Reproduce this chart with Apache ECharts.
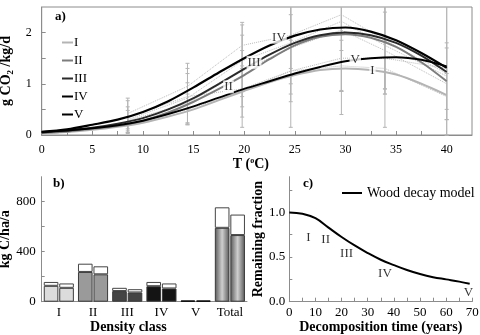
<!DOCTYPE html>
<html>
<head>
<meta charset="utf-8">
<script src="https://cdn.jsdelivr.net/npm/echarts@6/dist/echarts.min.js"></script>
<style>
  html, body { margin: 0; padding: 0; background: #fff; }
  #chart { width: 480px; height: 335px; }
</style>
</head>
<body>
<div id="chart"></div>
<script>
// ---- panel a: CO2 efflux vs temperature ----
const classNames = ['I', 'II', 'III', 'IV', 'V'];
const curveT = [0, 2.5, 5, 7.5, 10, 12.5, 15, 17.5, 20, 22.5, 25, 27.5, 30, 32.5, 35, 37.5, 40];
const curveI   = [0.04, 0.06, 0.10, 0.16, 0.24, 0.36, 0.50, 0.68, 0.86, 1.03, 1.17, 1.27, 1.30, 1.27, 1.18, 1.00, 0.78];
const curveII  = [0.04, 0.07, 0.12, 0.18, 0.28, 0.44, 0.65, 0.90, 1.17, 1.48, 1.75, 1.92, 1.97, 1.90, 1.72, 1.42, 1.05];
const curveIII = [0.05, 0.09, 0.14, 0.22, 0.33, 0.50, 0.72, 1.00, 1.29, 1.57, 1.80, 1.95, 2.00, 1.95, 1.80, 1.55, 1.23];
const curveIV  = [0.06, 0.11, 0.20, 0.30, 0.45, 0.66, 0.93, 1.22, 1.50, 1.75, 1.94, 2.06, 2.10, 2.02, 1.85, 1.60, 1.31];
const curveV   = [0.06, 0.09, 0.13, 0.19, 0.28, 0.41, 0.56, 0.73, 0.90, 1.05, 1.20, 1.33, 1.44, 1.50, 1.52, 1.47, 1.34];

// measured means and standard deviations at the incubation temperatures
const obsT = [8.5, 14.4, 19.8, 24.6, 29.6, 33.9, 40.0];
const obsI   = [0.20, 0.50, 0.85, 1.25, 1.35, 1.30, 0.75];
const obsII  = [0.28, 0.62, 1.25, 1.70, 2.05, 1.65, 1.00];
const obsIII = [0.30, 0.72, 1.45, 1.80, 2.22, 1.75, 1.15];
const obsIV  = [0.42, 0.95, 1.75, 1.95, 2.35, 1.85, 1.20];
const obsV   = [0.35, 0.75, 0.90, 1.25, 1.50, 1.50, 1.30];
const sdI   = [0.15, 0.30, 0.50, 0.60, 0.50, 0.50, 0.45];
const sdII  = [0.20, 0.40, 0.70, 0.90, 1.20, 0.75, 0.70];
const sdIII = [0.25, 0.48, 0.70, 0.80, 1.35, 0.85, 0.65];
const sdIV  = [0.30, 0.45, 0.45, 0.65, 0.70, 1.05, 1.40];
const sdV   = [0.32, 0.55, 0.75, 1.10, 1.10, 1.35, 1.30];

// curve name tags: [T, value, text]
const curveTags = [
  [18.45, 0.94, 'II'], [20.97, 1.42, 'III'], [23.43, 1.91, 'IV'],
  [30.97, 1.47, 'V'], [32.67, 1.25, 'I']
];

// ---- panel b: carbon release per density class ----
const densityClasses = ['I', 'II', 'III', 'IV', 'V', 'Total'];
const lowerA = [127, 238, 85, 124, 10, 591];
const upperA = [158, 304, 111, 158, 10, 755];
const lowerB = [111, 219, 74, 106, 10, 533];
const upperB = [146, 283, 100, 146, 10, 697];

// ---- panel c: wood decay model ----
const decayT = [0, 5, 10, 15, 20, 25, 30, 35, 40, 45, 50, 55, 60, 65, 69];
const decayF = [1.0, 0.985, 0.935, 0.83, 0.725, 0.63, 0.545, 0.47, 0.41, 0.355, 0.31, 0.275, 0.25, 0.225, 0.2];
const decayTags = [
  [7.3, 0.72, 'I'], [13.9, 0.70, 'II'], [21.9, 0.54, 'III'],
  [36.6, 0.32, 'IV'], [68.5, 0.10, 'V']
];

const serif = 'Liberation Serif';
const axisGray = '#8c8c8c';
const curveColors = ['#b4b4b4', '#7d7d7d', '#2a2a2a', '#000000', '#000000'];
const curveWidths = [2, 2, 2, 2.2, 2];
const yMaxA = 2.5;

const curves = [curveI, curveII, curveIII, curveIV, curveV];
const obs = [obsI, obsII, obsIII, obsIV, obsV];
const sds = [sdI, sdII, sdIII, sdIV, sdV];

function zip(xs, ys) { return xs.map((x, i) => [x, ys[i]]); }

const series = [];

// error bars (drawn first, beneath everything)
obs.forEach((m, k) => {
  series.push({
    type: 'custom', xAxisIndex: 0, yAxisIndex: 0, z: 1, silent: true,
    data: obsT.map((t, i) => [t, m[i] - sds[k][i], m[i] + sds[k][i]]),
    renderItem: function (params, api) {
      const x = api.value(0);
      const lo = Math.max(api.value(1), 0);
      const hi = Math.min(api.value(2), yMaxA);
      const p1 = api.coord([x, hi]);
      const p2 = api.coord([x, lo]);
      const w = 2;
      const st = { stroke: '#b5b5b5', lineWidth: 1 };
      const kids = [
        { type: 'line', shape: { x1: p1[0], y1: p1[1], x2: p2[0], y2: p2[1] }, style: st },
        { type: 'line', shape: { x1: p2[0] - w, y1: p2[1], x2: p2[0] + w, y2: p2[1] }, style: st }
      ];
      if (api.value(2) <= yMaxA) {
        kids.push({ type: 'line', shape: { x1: p1[0] - w, y1: p1[1], x2: p1[0] + w, y2: p1[1] }, style: st });
      }
      return { type: 'group', children: kids };
    }
  });
});

// dotted lines joining the measured means
obs.forEach((m, k) => {
  series.push({
    type: 'line', name: 'obs' + k, xAxisIndex: 0, yAxisIndex: 0, z: 2, silent: true,
    data: zip(obsT, m), symbol: 'none',
    lineStyle: { color: '#bcbcbc', width: 1, type: 'dotted' }
  });
});

// fitted temperature response curves
curves.forEach((c, k) => {
  series.push({
    type: 'line', name: classNames[k], xAxisIndex: 0, yAxisIndex: 0, z: 3 + k,
    data: zip(curveT, c), smooth: 0.3, symbol: 'none',
    lineStyle: { color: curveColors[k], width: curveWidths[k] },
    itemStyle: { color: curveColors[k] }
  });
});

series.push({
  type: 'scatter', xAxisIndex: 0, yAxisIndex: 0, z: 10, silent: true,
  symbolSize: 0, data: curveTags,
  label: {
    show: true, position: 'inside', formatter: p => p.value[2],
    fontFamily: serif, fontSize: 13, color: '#000',
    backgroundColor: '#fff', padding: [0, 1]
  }
});

// panel b stacked bars
const classColors = ['#dcdcdc', '#9a9a9a', '#444444', '#141414', '#000000'];
const totalFill = {
  type: 'linear', x: 0, y: 0, x2: 1, y2: 0,
  colorStops: [
    { offset: 0, color: '#575757' },
    { offset: 0.5, color: '#cfcfcf' },
    { offset: 1, color: '#575757' }
  ]
};
function lowerItems(vals) {
  return vals.map((v, i) => ({
    value: v,
    itemStyle: { color: i < 5 ? classColors[i] : totalFill, borderColor: i === 4 ? '#000' : '#3a3a3a', borderWidth: 1 }
  }));
}
function upperItems(lo, up) {
  return up.map((v, i) => ({
    value: v - lo[i],
    itemStyle: { color: '#fff', borderColor: '#444', borderWidth: v - lo[i] > 0 ? 1 : 0 }
  }));
}
series.push(
  { type: 'bar', xAxisIndex: 1, yAxisIndex: 1, stack: 'a', data: lowerItems(lowerA), barGap: '6%', barCategoryGap: '12%' },
  { type: 'bar', xAxisIndex: 1, yAxisIndex: 1, stack: 'a', data: upperItems(lowerA, upperA) },
  { type: 'bar', xAxisIndex: 1, yAxisIndex: 1, stack: 'b', data: lowerItems(lowerB) },
  { type: 'bar', xAxisIndex: 1, yAxisIndex: 1, stack: 'b', data: upperItems(lowerB, upperB) }
);

// panel c decay curve
series.push({
  type: 'line', name: 'Wood decay model', xAxisIndex: 2, yAxisIndex: 2,
  data: zip(decayT, decayF), smooth: 0.4, symbol: 'none',
  lineStyle: { color: '#000', width: 2 }, itemStyle: { color: '#000' }
});
series.push({
  type: 'scatter', xAxisIndex: 2, yAxisIndex: 2, silent: true,
  symbolSize: 0, data: decayTags,
  label: {
    show: true, position: 'inside', formatter: p => p.value[2],
    fontFamily: serif, fontSize: 13, color: '#000'
  }
});

const labelStyle = { fontFamily: serif, fontSize: 13, color: '#000' };
const nameStyle = { fontFamily: serif, fontSize: 14, fontWeight: 'bold', color: '#000' };
const lineAx = { lineStyle: { color: axisGray, width: 1 } };
const tickIn = { inside: true, length: 4, lineStyle: { color: axisGray } };

const chart = echarts.init(document.getElementById('chart'), null, { renderer: 'canvas' });
chart.setOption({
  animation: false,
  backgroundColor: '#fff',
  grid: [
    { left: 41.7, top: 7, width: 430.3, height: 128, outerBoundsMode: 'none', containLabel: false, show: true, borderColor: axisGray, borderWidth: 1, backgroundColor: 'transparent' },
    { left: 41.7, top: 176.7, width: 205.3, height: 125, outerBoundsMode: 'none', containLabel: false },
    { left: 289.3, top: 176.7, width: 183, height: 125, outerBoundsMode: 'none', containLabel: false }
  ],
  legend: [
    {
      data: classNames, orient: 'vertical', left: 57, top: 30,
      icon: 'rect', itemWidth: 11, itemHeight: 2, itemGap: 3,
      textStyle: { fontFamily: serif, fontSize: 13, color: '#000', padding: [0, 0, 0, -4], lineHeight: 15 },
      selectedMode: false
    },
    {
      data: ['Wood decay model'], left: 337, top: 181,
      icon: 'rect', itemWidth: 20, itemHeight: 2, itemGap: 4,
      textStyle: { fontFamily: serif, fontSize: 14, color: '#000' },
      selectedMode: false
    }
  ],
  xAxis: [
    {
      type: 'value', gridIndex: 0, min: 0, max: 42.5, interval: 2.5,
      axisLine: lineAx, axisTick: tickIn, splitLine: { show: false },
      axisLabel: Object.assign({ margin: 9, showMaxLabel: false, formatter: v => (v % 5 === 0 ? String(v) : '') }, labelStyle, { fontSize: 12 }),
      name: 'T ({sup|o}C)', nameLocation: 'middle', nameGap: 11,
      nameTextStyle: Object.assign({}, nameStyle, {
        verticalAlign: 'top', padding: [0, 12, 0, 0],
        rich: { sup: { fontFamily: serif, fontSize: 8, fontWeight: 'bold', padding: [0, 0, 7, 0] } }
      })
    },
    {
      type: 'category', gridIndex: 1, data: densityClasses,
      axisLine: lineAx, axisTick: Object.assign({}, tickIn, { length: 3 }),
      axisLabel: Object.assign({ margin: 4, interval: 0 }, labelStyle),
      name: 'Density class', nameLocation: 'middle', nameGap: 19,
      nameTextStyle: Object.assign({}, nameStyle, { verticalAlign: 'top', padding: [0, 32, 0, 0] })
    },
    {
      type: 'value', gridIndex: 2, min: 0, max: 70, interval: 5,
      axisLine: lineAx, axisTick: tickIn, splitLine: { show: false },
      axisLabel: Object.assign({ margin: 4, formatter: v => (v % 10 === 0 ? String(v) : '') }, labelStyle),
      name: 'Decomposition time (years)', nameLocation: 'middle', nameGap: 19,
      nameTextStyle: Object.assign({}, nameStyle, { verticalAlign: 'top' })
    }
  ],
  yAxis: [
    {
      type: 'value', gridIndex: 0, min: 0, max: yMaxA, interval: 0.5,
      axisLine: lineAx, axisTick: tickIn, splitLine: { show: false },
      axisLabel: Object.assign({ margin: 10, showMaxLabel: false, formatter: v => (v % 1 === 0 ? String(v) : '') }, labelStyle, { fontSize: 12 }),
      name: 'g CO{sub|2} /kg/d', nameLocation: 'middle', nameGap: 26,
      nameTextStyle: Object.assign({}, nameStyle, {
        rich: { sub: { fontFamily: serif, fontSize: 9, fontWeight: 'bold', padding: [7, 0, 0, 0] } }
      })
    },
    {
      type: 'value', gridIndex: 1, min: 0, max: 1000, interval: 200,
      axisLine: Object.assign({ show: true }, lineAx), axisTick: Object.assign({ show: true }, tickIn, { length: 3 }), splitLine: { show: false },
      axisLabel: Object.assign({ margin: 6, showMaxLabel: false, formatter: v => (v % 400 === 0 ? String(v) : '') }, labelStyle),
      name: 'kg C/ha/a', nameLocation: 'middle', nameGap: 26,
      nameTextStyle: nameStyle
    },
    {
      type: 'value', gridIndex: 2, min: 0, max: 1.4, interval: 0.25,
      axisLine: Object.assign({ show: true }, lineAx), axisTick: Object.assign({ show: true }, tickIn, { length: 3 }), splitLine: { show: false },
      axisLabel: Object.assign({ margin: 4, showMaxLabel: false, formatter: v => (Math.abs(v * 2 - Math.round(v * 2)) < 1e-9 ? v.toFixed(1) : '') }, labelStyle),
      name: 'Remaining fraction', nameLocation: 'middle', nameGap: 18,
      nameTextStyle: nameStyle
    }
  ],
  graphic: [
    { type: 'text', left: 55, top: 10, style: { text: 'a)', font: 'bold 13px "Liberation Serif"', fill: '#000' } },
    { type: 'text', left: 53, top: 177, style: { text: 'b)', font: 'bold 13px "Liberation Serif"', fill: '#000' } },
    { type: 'text', left: 303, top: 177, style: { text: 'c)', font: 'bold 13px "Liberation Serif"', fill: '#000' } }
  ],
  series: series
});
</script>
</body>
</html>
